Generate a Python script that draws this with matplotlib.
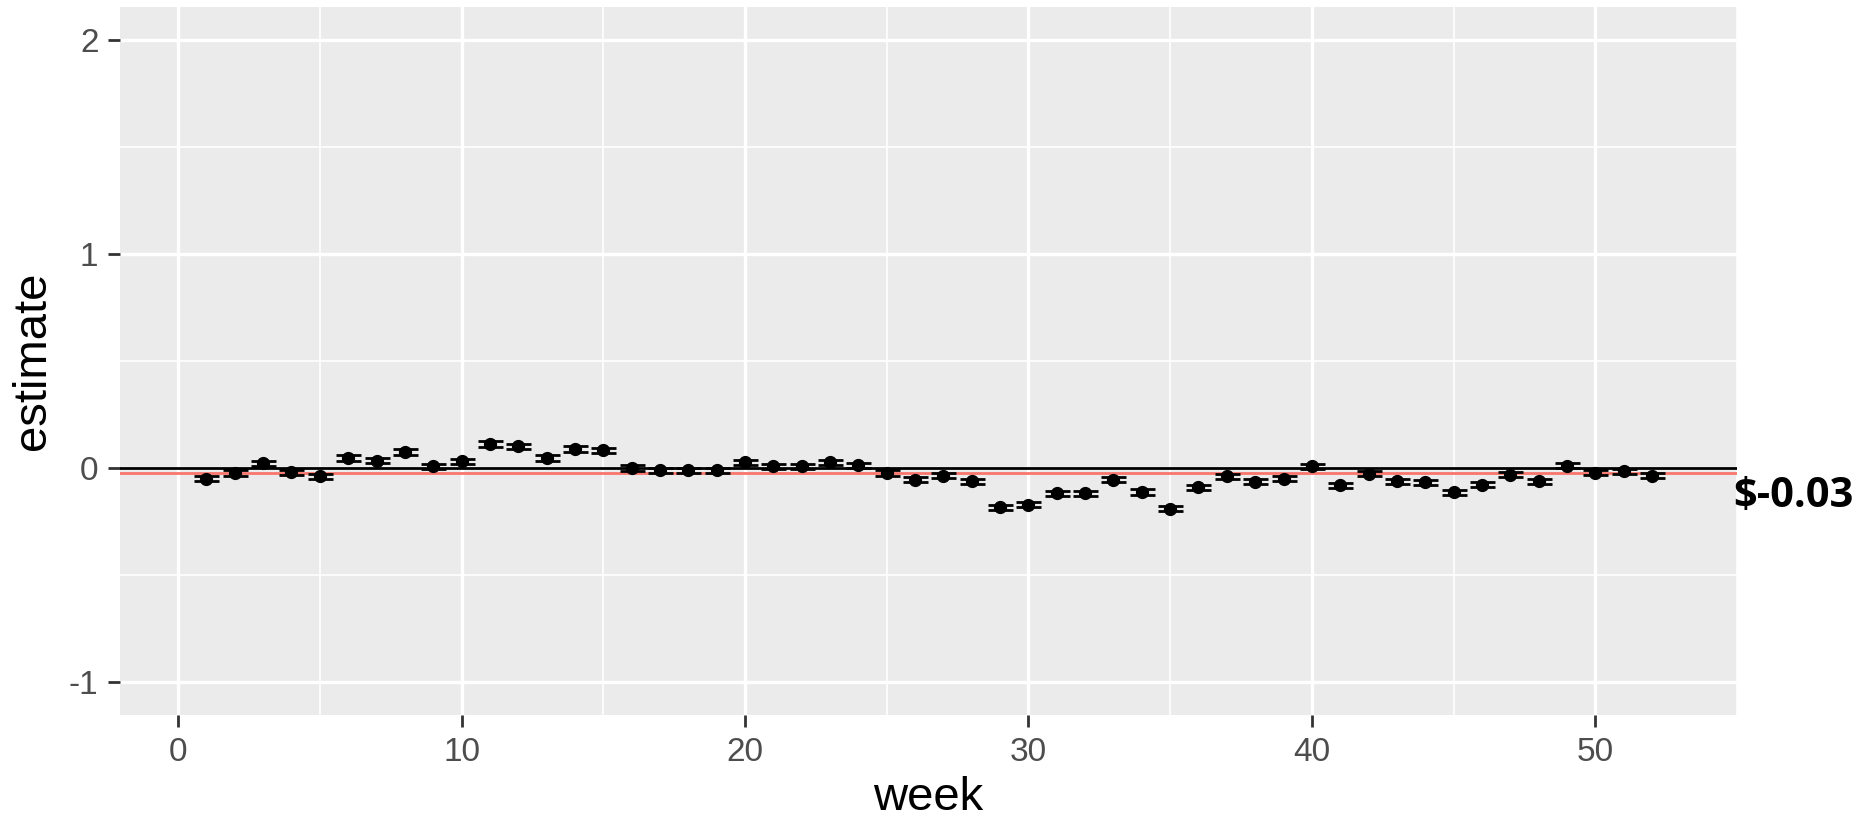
import matplotlib
matplotlib.use("Agg")
import matplotlib.pyplot as plt
from matplotlib.ticker import MultipleLocator

plt.rcParams["font.family"] = ["Liberation Sans", "DejaVu Sans"]
plt.rcParams["axes.unicode_minus"] = False

weeks = list(range(1, 53))
estimates = [-0.051, -0.023, 0.023, -0.019, -0.039, 0.047, 0.034, 0.075, 0.008, 0.031,
             0.112, 0.101, 0.047, 0.089, 0.082, 0.000, -0.011, -0.011, -0.011, 0.026,
             0.008, 0.008, 0.026, 0.012, -0.023, -0.054, -0.036, -0.062, -0.183, -0.171,
             -0.118, -0.118, -0.055, -0.112, -0.191, -0.090, -0.039, -0.065, -0.050, 0.008,
             -0.081, -0.026, -0.062, -0.067, -0.113, -0.078, -0.031, -0.062, 0.010, -0.022,
             -0.016, -0.036]
errors = [0.012] * 52
mean_line = -0.025
mean_label = "$-0.03"
x_ticks = [0, 10, 20, 30, 40, 50]
y_ticks = [-1, 0, 1, 2]

W, H = 1860, 824
fig = plt.figure(figsize=(W / 100, H / 100), dpi=100)
ax = fig.add_axes([120 / W, 1 - 715 / H, (1737 - 120) / W, (715 - 7) / H])
ax.set_facecolor("#EBEBEB")
for s in ax.spines.values():
    s.set_visible(False)

ax.set_xlim(-2.05, 55.0)
ax.set_ylim(-1.154, 2.154)
ax.set_xticks(x_ticks)
ax.set_yticks(y_ticks)
ax.xaxis.set_minor_locator(MultipleLocator(5))
ax.yaxis.set_minor_locator(MultipleLocator(0.5))
ax.grid(which="major", color="white", linewidth=2.4)
ax.grid(which="minor", color="white", linewidth=1.2)
ax.set_axisbelow(True)
ax.tick_params(which="minor", length=0)
ax.tick_params(which="major", length=8.5, width=2.0, color="#333333",
               labelsize=24, labelcolor="#4D4D4D", pad=7)

ax.axhline(0, color="black", linewidth=2.0, zorder=2)
ax.axhline(mean_line, color="#F8766D", linewidth=2.0, zorder=2)

ax.errorbar(weeks, estimates, yerr=errors, fmt="o", color="black",
            markersize=8.5, elinewidth=2.0, capsize=9, capthick=2.0, zorder=3)

ax.set_xlabel("week", fontsize=34, labelpad=6)
ax.set_ylabel("estimate", fontsize=34, labelpad=10)

fig.text(1733 / W, 1 - 507 / H, mean_label, fontsize=30, fontweight="bold",
         family=["Open Sans", "DejaVu Sans"],
         ha="left", va="baseline", color="black")

fig.savefig("out.png", dpi=100)
